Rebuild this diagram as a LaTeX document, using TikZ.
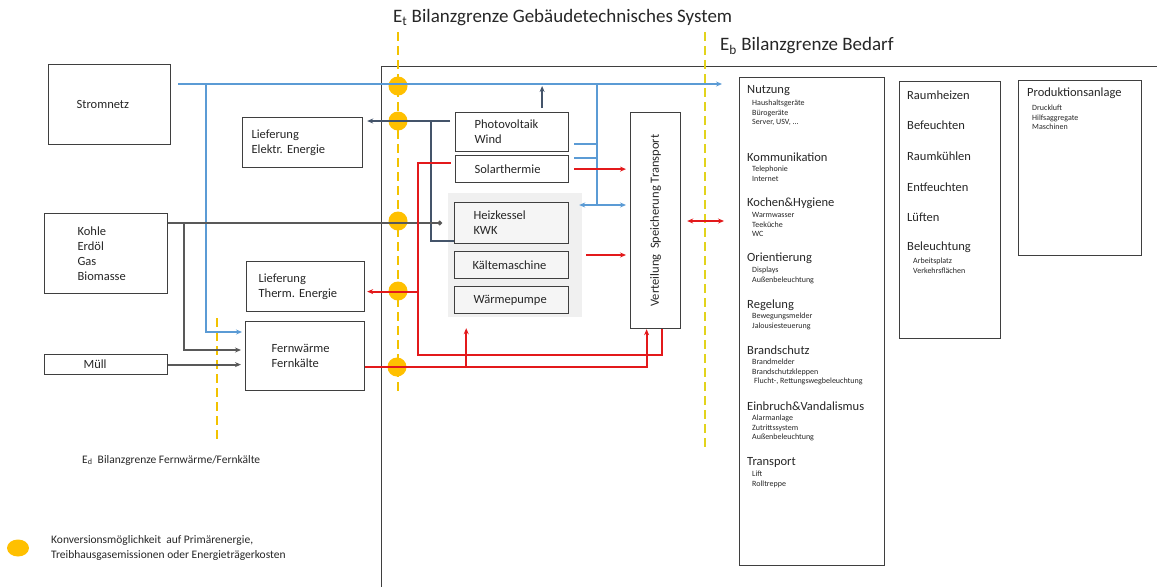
\documentclass[tikz,border=0pt]{standalone}
\usepackage{fontspec}
\setmainfont{Carlito}
\usetikzlibrary{arrows.meta,calc,shapes.geometric}

\definecolor{stromblau}{HTML}{5B9BD5}
\definecolor{pvnavy}{HTML}{44546A}
\definecolor{brenngrau}{HTML}{595959}
\definecolor{waermerot}{HTML}{E3191B}
\definecolor{konvgelb}{HTML}{FFC000}
\definecolor{grenzgelb}{HTML}{F2C200}
\definecolor{bedarfgelb}{HTML}{E2D31C}
\definecolor{rahmen}{HTML}{3F3F3F}

\begin{document}
\frenchspacing
\begin{tikzpicture}[x=1pt,y=-1pt,>={Stealth[length=6pt,width=5pt]},
    every node/.style={text=black!85,font=\fontsize{12.5}{15}\selectfont},
    box/.style n args={4}{draw=rahmen,line width=1.2pt,rectangle,anchor=north west,align=left,inner ysep=0pt,
        minimum width=#1,minimum height=#2,inner xsep=#3,text width=#4},
    grbox/.style n args={4}{box={#1}{#2}{#3}{#4},fill=black!4},
    leer/.style={draw=rahmen,line width=1.2pt,rectangle,anchor=north west,inner sep=0pt},
    hd/.style={anchor=west,inner sep=0pt},
    itm/.style={anchor=north west,inner sep=0pt,align=left,font=\fontsize{8}{9.8}\selectfont},
    konv/.style={circle,fill=konvgelb,minimum size=19pt,inner sep=0pt},
    grenze/.style={draw=grenzgelb,line width=2.2pt,dash pattern=on 9pt off 5pt},
    elec/.style={draw=stromblau,line width=1.8pt},
    pvline/.style={draw=pvnavy,line width=1.8pt},
    fuel/.style={draw=brenngrau,line width=1.8pt},
    heat/.style={draw=waermerot,line width=2pt}]
    \useasboundingbox (0,0) rectangle (1157,587);

    % Bilanzgrenzen
    \node[hd,font=\fontsize{19}{22}\selectfont] (etlbl) at (393,18) {E\textsubscript{t} Bilanzgrenze Gebäudetechnisches System};
    \node[hd,font=\fontsize{19}{22}\selectfont] (eblbl) at (720,46) {E\textsubscript{b} Bilanzgrenze Bedarf};
    \node[hd,font=\fontsize{11.5}{14}\selectfont] (edlbl) at (82,460) {E\textsubscript{d}\ \ Bilanzgrenze Fernwärme/Fernkälte};
    \draw[rahmen,line width=1pt] (1157,66) -- (381,66) -- (381,587);
    \fill[black!6] (448,193) rectangle (582,317);
    \draw[grenze] (398,32) -- (398,393);
    \draw[grenze,draw=bedarfgelb] (705,32) -- (705,450);
    \draw[grenze] (217,318) -- (217,440);

    % Konversionspunkte
    \node[konv] (k1) at (398,86) {};
    \node[konv] (k2) at (398,121) {};
    \node[konv] (k3) at (398,221) {};
    \node[konv] (k4) at (398,291) {};
    \node[konv] (k5) at (397,367) {};

    % Versorgung
    \node[box={122}{80}{28}{66}] (strom) at (48,64) {Stromnetz};
    \node[box={120}{50}{9}{102}] (lelek) at (242,117) {Lieferung\\Elektr. Energie};
    \node[box={123}{80}{33}{57}] (kohle) at (44,213) {Kohle\\Erdöl\\Gas\\Biomasse};
    \node[box={118}{50}{12}{94}] (lthe) at (246,261) {Lieferung\\Therm. Energie};
    \node[box={123}{20}{39}{45}] (muell) at (44,354) {Müll};
    \node[box={119}{69}{26}{67}] (fern) at (245,321) {Fernwärme\\Fernkälte};

    % Erzeugung
    \node[box={113}{39}{19}{75}] (pv) at (455,112) {Photovoltaik\\Wind};
    \node[box={113}{27}{19}{75}] (solar) at (455,155) {Solarthermie};
    \node[grbox={114}{41}{19}{76}] (heiz) at (454,202) {Heizkessel\\KWK};
    \node[grbox={114}{27}{18}{78}] (kaelte) at (454,251) {Kältemaschine};
    \node[grbox={114}{27}{19}{76}] (wp) at (454,286) {Wärmepumpe};
    \node[leer,minimum width=50pt,minimum height=216pt] (vert) at (630,112) {};
    \node[rotate=90,inner sep=0pt] (vertlbl) at (vert.center) {Verteilung\ \ Speicherung Transport};

    % Bedarf
    \node[leer,minimum width=145pt,minimum height=488pt] (bedarf) at (739,77) {};
    \node[hd] (nutz) at (747,91) {Nutzung};
    \node[itm] (nutzi) at (752,99.5) {Haushaltsgeräte\\Bürogeräte\\Server, USV, ...};
    \node[hd] (komm) at (747,157) {Kommunikation};
    \node[itm] (kommi) at (752,165.5) {Telephonie\\Internet};
    \node[hd] (koch) at (747,203) {Kochen\&Hygiene};
    \node[itm] (kochi) at (752,212) {Warmwasser\\Teeküche\\WC};
    \node[hd] (orient) at (747,258) {Orientierung};
    \node[itm] (orienti) at (752,267) {Displays\\Außenbeleuchtung};
    \node[hd] (regel) at (747,305) {Regelung};
    \node[itm] (regeli) at (752,313) {Bewegungsmelder\\Jalousiesteuerung};
    \node[hd] (brand) at (747,350) {Brandschutz};
    \node[itm] (brandi) at (752,358.5) {Brandmelder\\Brandschutzkleppen\\\hspace{2pt}Flucht-, Rettungswegbeleuchtung};
    \node[hd] (einbr) at (747,406) {Einbruch\&Vandalismus};
    \node[itm] (einbri) at (752,414.5) {Alarmanlage\\Zutrittssystem\\Außenbeleuchtung};
    \node[hd] (trans) at (747,462) {Transport};
    \node[itm] (transi) at (752,470.5) {Lift\\Rolltreppe};

    \node[leer,minimum width=101pt,minimum height=257pt] (raum) at (899,81) {};
    \node[hd] (rheiz) at (907,95) {Raumheizen};
    \node[hd] (befeu) at (907,125) {Befeuchten};
    \node[hd] (rkuehl) at (907,156) {Raumkühlen};
    \node[hd] (entfeu) at (907,187) {Entfeuchten};
    \node[hd] (lueft) at (907,217) {Lüften};
    \node[hd] (beleu) at (907,247) {Beleuchtung};
    \node[itm] (beleui) at (913,257.5) {Arbeitsplatz\\Verkehrsflächen};

    \node[leer,minimum width=123pt,minimum height=175pt] (prod) at (1018,80) {};
    \node[hd] (prodh) at (1027,93) {Produktionsanlage};
    \node[itm] (prodi) at (1032,104.5) {Druckluft\\Hilfsaggregate\\Maschinen};

    % Legende
    \node[konv,ellipse,minimum width=22pt,minimum height=17pt] (legdot) at (18,548) {};
    \node[hd,align=left,font=\fontsize{11.5}{15}\selectfont] (legtxt) at (51,548) {Konversionsmöglichkeit\ \ auf Primärenergie,\\Treibhausgasemissionen oder Energieträgerkosten};

    % Strom
    \coordinate (sA) at ($(strom.north east)+(7,20)$);
    \draw[elec,->,shorten >=17pt] (sA) -- (sA -| bedarf.west);
    \draw[elec,->,shorten >=3pt] (sA -| 206,0) |- ($(fern.north west)+(0,11)$);
    \coordinate (pvA) at ($(pv.north)+(30,-4)$);
    \draw[pvline,->,shorten >=2pt] (pvA) -- (pvA |- sA);
    \coordinate (heB) at ($(heiz.north east)+(10,3)$);
    \draw[elec] (sA -| 597,0) coordinate (sC) -- (sC |- heB);
    \draw[elec] ($(pv.south east)+(5,-8)$) coordinate (pvB) -- (pvB -| sC);
    \draw[elec] ($(solar.north east)+(5,3)$) coordinate (soB) -- (soB -| sC);
    \draw[elec,<->,shorten >=4pt] (heB) -- (heB -| vert.west);
    \coordinate (jN) at (431,121);
    \draw[pvline,->,shorten <=5pt,shorten >=4pt] (pv.west |- jN) -- (lelek.east |- jN);
    \draw[pvline] ($(heiz.south west)+(0,-3)$) -| (jN);

    % Brennstoffe
    \draw[fuel,-{Circle[length=4.5pt]},shorten >=12pt] (kohle.east |- heiz.west) -- (heiz.west);
    \coordinate (jK) at ($(kohle.east |- heiz.west)+(16,0)$);
    \draw[fuel,->,shorten >=4pt] (jK) |- ($(fern.north west)+(0,29)$);
    \draw[fuel,->,shorten >=4pt] (muell.east) -- (muell.east -| fern.west);

    % Waerme
    \draw[heat,->,shorten <=5pt,shorten >=4pt] (solar.east) -- (solar.east -| vert.west);
    \coordinate (jR1) at (418,355);
    \draw[heat] ($(vert.south)+(6,0)$) |- (jR1) |- ($(solar.west)+(-4,-6)$);
    \draw[heat,->,shorten >=2pt] ($(jR1 |- lthe.east)+(0,5)$) coordinate (jR3) -- (jR3 -| lthe.east);
    \draw[heat,->] ($(fern.east)+(0,11)$) -| ($(vert.south)+(-9,0)$);
    \draw[heat,->,shorten >=14pt] ($(fern.east)+(101,11)$) coordinate (jR2) -- (jR2 |- wp.south);
    \draw[heat,->,shorten <=17pt,shorten >=4pt] ($(kaelte.north east)+(0,4)$) coordinate (kaA) -- (kaA -| vert.west);
    \draw[heat,<->,shorten <=6pt,shorten >=15pt] (vert.east |- 0,221) -- (bedarf.west |- 0,221);
\end{tikzpicture}
\end{document}
